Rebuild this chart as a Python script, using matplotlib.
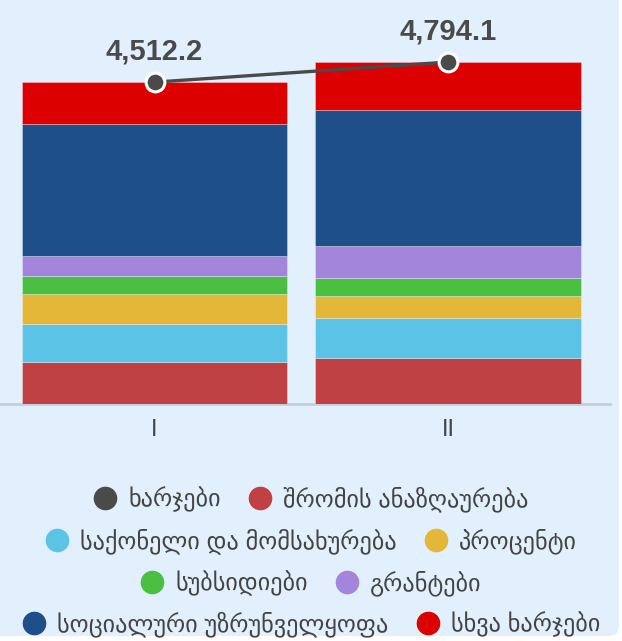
import matplotlib.pyplot as plt
from matplotlib.lines import Line2D
from matplotlib.patches import FancyBboxPatch

plt.rcParams['font.family'] = ['Liberation Sans', 'DejaVu Sans']

QUARTERS = ["I", "II"]
TOTAL_NAME = "ხარჯები"
TOTAL = [4512.2, 4794.1]

SERIES = [
    "შრომის ანაზღაურება",
    "საქონელი და მომსახურება",
    "პროცენტი",
    "სუბსიდიები",
    "გრანტები",
    "სოციალური უზრუნველყოფა",
    "სხვა ხარჯები",
]
compensation = [584, 639]
goods_services = [537, 566]
interest = [420, 313]
subsidies = [248, 248]
grants = [285, 449]
social = [1850, 1907]
other = [588, 672]
VALUES = [compensation, goods_services, interest, subsidies, grants, social, other]

COLORS = ["#BF4143", "#5BC4E6", "#E3B838", "#4ABF41", "#A385DC", "#1E4F89", "#DC0000"]
TOTAL_COLOR = "#4A4A4A"
BG = "#E2F0FD"

# legend rows as laid out in the original
LEGEND_ROWS = [
    [TOTAL_NAME, SERIES[0]],
    [SERIES[1], SERIES[2]],
    [SERIES[3], SERIES[4]],
    [SERIES[5], SERIES[6]],
]
ROW_Y = [499, 541, 583, 624]

W, H = 622, 641
fig = plt.figure(figsize=(W / 100, H / 100), dpi=100, facecolor="white")

card = FancyBboxPatch((-30 / W, 5 / H), (619 + 30) / W, 1.2, transform=fig.transFigure,
                      boxstyle="round,pad=0,rounding_size=0.016", facecolor=BG,
                      edgecolor="none", zorder=-10)
fig.patches.append(card)

ax = fig.add_axes([0, (H - 404) / H, 610 / W, 404 / H])
ax.set_facecolor("none")

x = list(range(len(QUARTERS)))
bottom = [0.0] * len(QUARTERS)
for name, vals, col in zip(SERIES, VALUES, COLORS):
    ax.bar(x, vals, 0.903, bottom=bottom, color=col, label=name,
           edgecolor=(1, 1, 1, 0.35), linewidth=0.6, zorder=2)
    bottom = [b + v for b, v in zip(bottom, vals)]

ax.plot(x, TOTAL, color=TOTAL_COLOR, lw=2.4, marker="o", ms=13.5,
        mfc=TOTAL_COLOR, mec="white", mew=2.2, zorder=5, clip_on=False)
for xi, t in zip(x, TOTAL):
    ax.annotate(f"{t:,.1f}", (xi, t), xytext=(0, 22), textcoords="offset points",
                ha="center", va="center", fontsize=21, fontweight="bold",
                color=TOTAL_COLOR, family="Liberation Sans")

ax.set_xlim(-154.5 / 293.5, (610 - 154.5) / 293.5)
ax.set_ylim(0, 404 * 14.02)
ax.set_yticks([])
ax.set_xticks(x)
ax.set_xticklabels(QUARTERS, fontsize=17, color="#444444")
ax.tick_params(axis="x", length=0, pad=11)
for s in ["top", "right", "left"]:
    ax.spines[s].set_visible(False)
ax.spines["bottom"].set_color("#C5CFDA")
ax.spines["bottom"].set_linewidth(2)
ax.spines["bottom"].set_zorder(1)

color_of = dict(zip(SERIES, COLORS))
color_of[TOTAL_NAME] = TOTAL_COLOR
for row, y in zip(LEGEND_ROWS, ROW_Y):
    handles = [Line2D([], [], ls="", marker="o", ms=16, color=color_of[n]) for n in row]
    fig.legend(handles, row, loc="center", bbox_to_anchor=(0.5, 1 - y / H), ncol=2,
               frameon=False, fontsize=17.5, handlelength=1.0, handletextpad=0.46,
               columnspacing=1.1, labelcolor="#444444", borderpad=0, borderaxespad=0)

fig.savefig("out.png", dpi=100, facecolor=fig.get_facecolor())
